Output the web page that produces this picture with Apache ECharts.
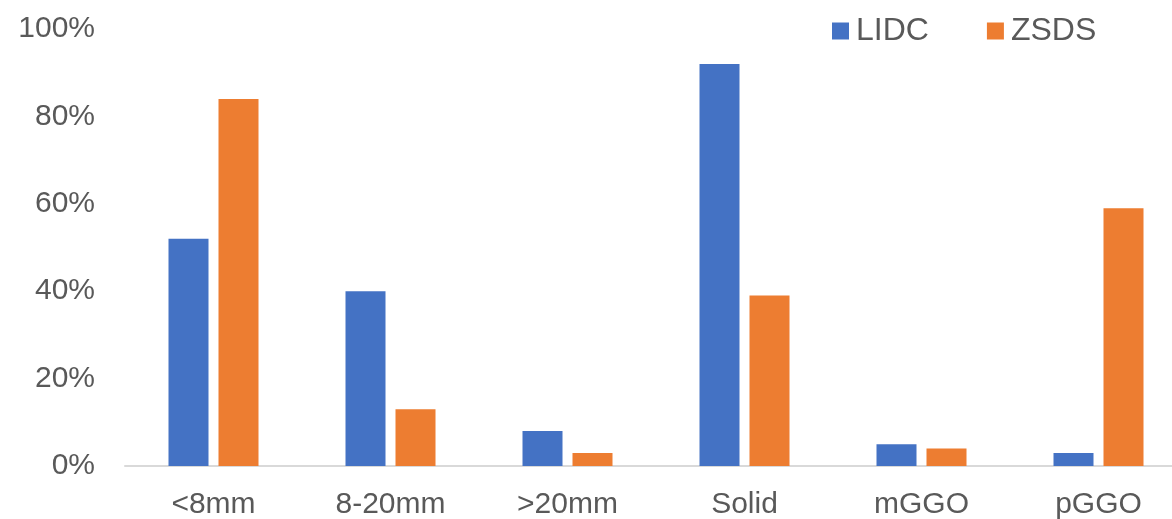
<!DOCTYPE html>
<html>
<head>
<meta charset="utf-8">
<script src="https://cdn.jsdelivr.net/npm/echarts@6/dist/echarts.min.js"></script>
<style>
  html, body { margin: 0; padding: 0; background: #fff; }
  #chart { width: 1172px; height: 519px; }
</style>
</head>
<body>
<div id="chart"></div>
<script>
// Nodule categories and the share (%) of each dataset falling in them
const categories = ['<8mm', '8-20mm', '>20mm', 'Solid', 'mGGO', 'pGGO'];
const lidcValues = [52, 40, 8, 92, 5, 3];
const zsdsValues = [84, 13, 3, 39, 4, 59];
const yTicks = [0, 20, 40, 60, 80, 100];

const FONT = '"Liberation Sans", Arial, sans-serif';
const TEXT = '#595959';

const chart = echarts.init(document.getElementById('chart'), null, { renderer: 'canvas' });
chart.setOption({
  animation: false,
  backgroundColor: '#ffffff',
  textStyle: { fontFamily: FONT },
  legend: {
    top: 10,
    left: 827,
    itemWidth: 17,
    itemHeight: 17,
    itemGap: 58,
    icon: 'rect',
    textStyle: { fontFamily: FONT, fontSize: 32, color: TEXT, padding: [0, 0, 0, 2] },
    data: ['LIDC', 'ZSDS']
  },
  // plot area runs a little past the right edge of the canvas
  grid: { left: 125, right: -15, top: 29, bottom: 53, outerBoundsMode: 'none', containLabel: false },
  xAxis: {
    type: 'category',
    data: categories,
    axisLine: { show: true, lineStyle: { color: '#d9d9d9', width: 2 } },
    axisTick: { show: false },
    axisLabel: { fontFamily: FONT, fontSize: 30, color: TEXT, margin: 24 }
  },
  yAxis: {
    type: 'value',
    min: yTicks[0],
    max: yTicks[yTicks.length - 1],
    interval: yTicks[1] - yTicks[0],
    axisLine: { show: false },
    axisTick: { show: false },
    splitLine: { show: false },
    axisLabel: { fontFamily: FONT, fontSize: 30, color: TEXT, margin: 30, formatter: '{value}%' }
  },
  series: [
    {
      name: 'LIDC', type: 'bar', data: lidcValues,
      barWidth: 40, barGap: '25%',
      itemStyle: { color: '#4472c4' }
    },
    {
      name: 'ZSDS', type: 'bar', data: zsdsValues,
      barWidth: 40, barGap: '25%',
      itemStyle: { color: '#ed7d31' }
    }
  ]
});
</script>
</body>
</html>
